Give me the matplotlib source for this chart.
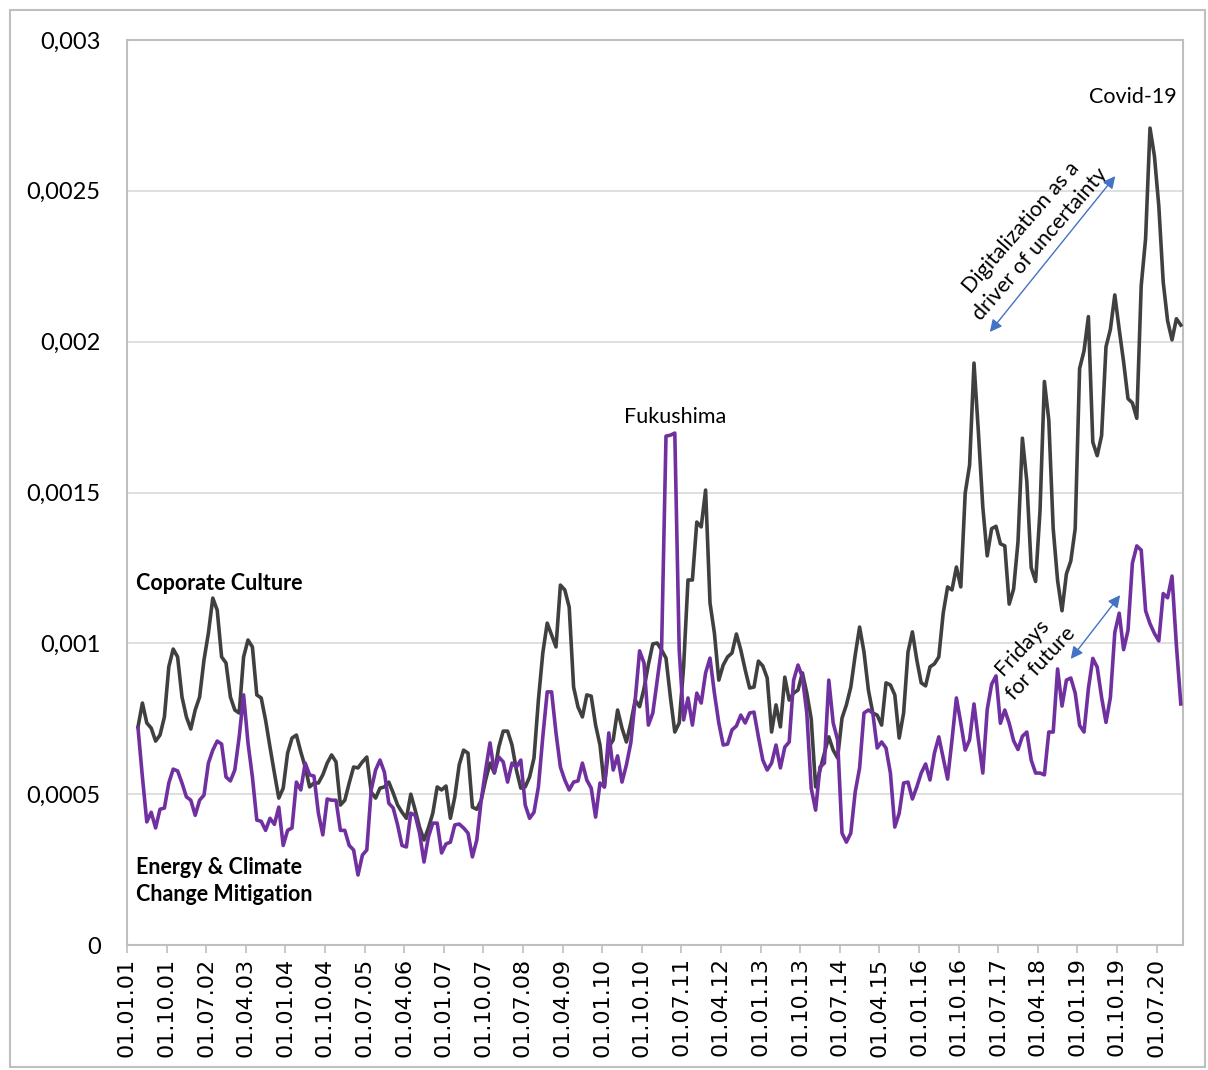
import numpy as np
import matplotlib
matplotlib.use('Agg')
import matplotlib.pyplot as plt
from matplotlib.patches import Rectangle

plt.rcParams['font.family'] = ['Lato', 'DejaVu Sans']

# monthly values, in units of 0.001, from 01.03.01 to 01.12.20
corporate_culture = [
    0.723, 0.802, 0.736, 0.719, 0.676, 0.696, 0.756, 0.922, 0.981, 0.955,
    0.822, 0.756, 0.716, 0.779, 0.822, 0.945, 1.034, 1.150, 1.110, 0.955,
    0.935, 0.822, 0.779, 0.769, 0.955, 1.011, 0.988, 0.829, 0.819, 0.745,
    0.656, 0.570, 0.487, 0.520, 0.636, 0.686, 0.696, 0.640, 0.590, 0.524,
    0.537, 0.537, 0.564, 0.603, 0.630, 0.607, 0.464, 0.480, 0.537, 0.590,
    0.587, 0.607, 0.623, 0.507, 0.487, 0.520, 0.524, 0.540, 0.504, 0.464,
    0.440, 0.420, 0.500, 0.447, 0.390, 0.348, 0.388, 0.437, 0.524, 0.514,
    0.527, 0.420, 0.491, 0.597, 0.646, 0.636, 0.457, 0.450, 0.480, 0.547,
    0.603, 0.570, 0.656, 0.709, 0.709, 0.663, 0.580, 0.520, 0.524, 0.557,
    0.620, 0.812, 0.968, 1.067, 1.028, 0.988, 1.193, 1.177, 1.120, 0.855,
    0.789, 0.756, 0.829, 0.825, 0.729, 0.663, 0.524, 0.656, 0.680, 0.779,
    0.719, 0.673, 0.736, 0.812, 0.790, 0.850, 0.930, 0.998, 1.001, 0.978,
    0.951, 0.822, 0.706, 0.736, 0.922, 1.210, 1.210, 1.402, 1.386, 1.508,
    1.134, 1.034, 0.878, 0.928, 0.955, 0.968, 1.031, 0.978, 0.912, 0.852,
    0.855, 0.941, 0.925, 0.885, 0.706, 0.796, 0.723, 0.888, 0.812, 0.835,
    0.845, 0.902, 0.835, 0.750, 0.524, 0.580, 0.636, 0.690, 0.646, 0.620,
    0.752, 0.796, 0.855, 0.961, 1.054, 0.971, 0.845, 0.769, 0.762, 0.729,
    0.869, 0.862, 0.829, 0.686, 0.769, 0.971, 1.038, 0.945, 0.869, 0.859,
    0.922, 0.932, 0.955, 1.100, 1.187, 1.177, 1.253, 1.187, 1.498, 1.591,
    1.929, 1.700, 1.452, 1.290, 1.380, 1.388, 1.330, 1.323, 1.130, 1.180,
    1.337, 1.680, 1.538, 1.251, 1.205, 1.439, 1.868, 1.740, 1.380, 1.208,
    1.108, 1.230, 1.273, 1.380, 1.911, 1.969, 2.083, 1.667, 1.622, 1.689,
    1.983, 2.041, 2.155, 2.041, 1.933, 1.811, 1.797, 1.746, 2.185, 2.342,
    2.708, 2.616, 2.450, 2.198, 2.069, 2.006, 2.076, 2.055,
]

energy_climate = [
    0.720, 0.557, 0.408, 0.440, 0.388, 0.450, 0.454, 0.537, 0.583, 0.577,
    0.537, 0.491, 0.480, 0.430, 0.480, 0.497, 0.603, 0.646, 0.676, 0.666,
    0.557, 0.544, 0.580, 0.690, 0.829, 0.670, 0.557, 0.414, 0.410, 0.380,
    0.420, 0.400, 0.457, 0.330, 0.380, 0.388, 0.540, 0.514, 0.603, 0.564,
    0.560, 0.437, 0.365, 0.484, 0.480, 0.480, 0.380, 0.380, 0.330, 0.315,
    0.232, 0.298, 0.315, 0.514, 0.580, 0.613, 0.573, 0.470, 0.454, 0.398,
    0.330, 0.325, 0.437, 0.430, 0.371, 0.275, 0.358, 0.404, 0.404, 0.305,
    0.335, 0.341, 0.398, 0.401, 0.388, 0.371, 0.292, 0.348, 0.480, 0.580,
    0.670, 0.573, 0.623, 0.607, 0.540, 0.603, 0.590, 0.613, 0.464, 0.420,
    0.440, 0.524, 0.690, 0.839, 0.839, 0.703, 0.590, 0.547, 0.514, 0.540,
    0.544, 0.603, 0.547, 0.520, 0.424, 0.537, 0.524, 0.703, 0.580, 0.627,
    0.540, 0.597, 0.670, 0.812, 0.975, 0.935, 0.729, 0.769, 0.878, 0.985,
    1.687, 1.690, 1.697, 0.978, 0.746, 0.819, 0.729, 0.835, 0.802, 0.902,
    0.951, 0.835, 0.736, 0.663, 0.666, 0.713, 0.726, 0.762, 0.736, 0.769,
    0.772, 0.690, 0.613, 0.580, 0.603, 0.663, 0.587, 0.656, 0.673, 0.878,
    0.928, 0.888, 0.769, 0.520, 0.447, 0.590, 0.603, 0.878, 0.736, 0.680,
    0.371, 0.341, 0.371, 0.507, 0.587, 0.769, 0.779, 0.769, 0.653, 0.673,
    0.653, 0.570, 0.391, 0.437, 0.537, 0.540, 0.484, 0.524, 0.570, 0.600,
    0.547, 0.636, 0.690, 0.620, 0.550, 0.680, 0.819, 0.736, 0.646, 0.680,
    0.799, 0.680, 0.570, 0.780, 0.864, 0.892, 0.735, 0.779, 0.735, 0.677,
    0.648, 0.692, 0.706, 0.613, 0.570, 0.570, 0.564, 0.706, 0.706, 0.915,
    0.792, 0.878, 0.885, 0.835, 0.728, 0.706, 0.850, 0.950, 0.921, 0.821,
    0.738, 0.821, 1.036, 1.100, 0.979, 1.043, 1.266, 1.323, 1.309, 1.108,
    1.065, 1.033, 1.008, 1.165, 1.151, 1.223, 0.993, 0.799,
]

x_labels = ['01.01.01', '01.10.01', '01.07.02', '01.04.03', '01.01.04', '01.10.04',
            '01.07.05', '01.04.06', '01.01.07', '01.10.07', '01.07.08', '01.04.09',
            '01.01.10', '01.10.10', '01.07.11', '01.04.12', '01.01.13', '01.10.13',
            '01.07.14', '01.04.15', '01.01.16', '01.10.16', '01.07.17', '01.04.18',
            '01.01.19', '01.10.19', '01.07.20']
y_ticks = [0, 0.0005, 0.001, 0.0015, 0.002, 0.0025, 0.003]
y_labels = ['0', '0,0005', '0,001', '0,0015', '0,002', '0,0025', '0,003']

cc = np.array(corporate_culture) / 1000
ec = np.array(energy_climate) / 1000
first_month = 2  # March 2001, months counted from Jan 2001
x = np.arange(first_month, first_month + len(cc)) + 0.5

fig = plt.figure(figsize=(12.08, 10.70), dpi=100)
ax = fig.add_axes([127 / 1208, 1 - 945 / 1070, (1183 - 127) / 1208, (945 - 40) / 1070])

grey = '#bfbfbf'
ax.plot(x, cc, color='#404040', lw=2.6, solid_joinstyle='round', zorder=3)
ax.plot(x, ec, color='#7030a0', lw=2.6, solid_joinstyle='round', zorder=3)

ax.set_xlim(0, 240)
ax.set_ylim(0, 0.003)
ax.set_xticks(np.arange(len(x_labels)) * 9)
ax.set_xticklabels(x_labels, rotation=90, fontsize=16, family='DejaVu Sans')
ax.set_yticks(y_ticks)
ax.set_yticklabels(y_labels, fontsize=17)
ax.tick_params(axis='x', direction='out', length=6, width=1.2, color=grey, pad=3)
ax.tick_params(axis='y', length=0, pad=19)
ax.grid(axis='y', color='#d9d9d9', lw=1.2, zorder=0)
for s in ax.spines.values():
    s.set_color(grey)
    s.set_linewidth(1.5)

# annotations
ax.text(2, 0.0012, 'Coporate Culture', fontsize=15.5, fontweight='bold', va='center')
ax.text(2, 0.000212, 'Energy & Climate\nChange Mitigation', fontsize=15.5,
        fontweight='bold', va='center', linespacing=1.3)
ax.text(124.5, 0.00175, 'Fukushima', fontsize=15.5, ha='center', va='center')
ax.text(228.6, 0.00281, 'Covid-19', fontsize=15.5, ha='center', va='center')
ax.text(205.3, 0.00235, 'Digitalization as a\ndriver of uncertainty', fontsize=15.5,
        ha='center', va='center', rotation=49, rotation_mode='anchor', linespacing=1.3)
ax.text(205.6, 0.00096, 'Fridays\nfor future', fontsize=15.5, ha='center', va='center',
        rotation=47, rotation_mode='anchor', linespacing=1.3)

arrow = dict(arrowstyle='<|-|>', color='#4472c4', lw=1.0, mutation_scale=18)
ax.annotate('', xy=(195.7, 0.002025), xytext=(225.0, 0.002556), arrowprops=arrow)
ax.annotate('', xy=(214.1, 0.000941), xytext=(226.1, 0.001167), arrowprops=arrow)

fig.patches.append(Rectangle((10 / 1208, 1 - 1067 / 1070), 1195 / 1208, 1057 / 1070,
                             transform=fig.transFigure, fill=False, edgecolor=grey, lw=1.5))

fig.savefig('out.png', dpi=100)
